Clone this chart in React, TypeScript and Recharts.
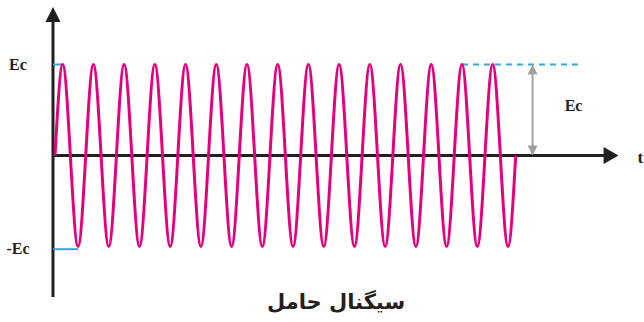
import { ComposedChart, Line, XAxis, YAxis, ReferenceLine } from "recharts";

// carrier sampled every quarter period, 15 periods
const sampleIndex = [
  0, 1, 2, 3, 4, 5, 6, 7, 8, 9, 10, 11, 12, 13, 14, 15, 16, 17, 18, 19, 20,
  21, 22, 23, 24, 25, 26, 27, 28, 29, 30, 31, 32, 33, 34, 35, 36, 37, 38, 39, 40,
  41, 42, 43, 44, 45, 46, 47, 48, 49, 50, 51, 52, 53, 54, 55, 56, 57, 58, 59, 60,
];
const carrierLevel = [
  0, 1, 0, -1, 0, 1, 0, -1, 0, 1, 0, -1, 0, 1, 0, -1, 0, 1, 0, -1, 0,
  1, 0, -1, 0, 1, 0, -1, 0, 1, 0, -1, 0, 1, 0, -1, 0, 1, 0, -1, 0,
  1, 0, -1, 0, 1, 0, -1, 0, 1, 0, -1, 0, 1, 0, -1, 0, 1, 0, -1, 0,
];

const levelValues = [1, -1.03];
const levelLabels = ["Ec", "-Ec"];
const levelEnds = [1, 3];
const axisLabel = "t";
const titleText = "سیگنال حامل";

const data = sampleIndex.map((t, i) => ({ t, v: carrierLevel[i] }));

const PINK = "#e6007e";
const BLUE = "#29abe2";
const GRAY = "#a0a0a0";
const DARK = "#231f20";
const labelFont = "'Liberation Serif', 'Times New Roman', serif";

const HorizontalAxis = (p: any) => {
  const { x1, y1, x2, y2 } = p;
  return (
    <g>
      <line x1={x1} y1={y1} x2={x2 - 12} y2={y2} stroke={DARK} strokeWidth={3} />
      <polygon points={`${x2},${y2} ${x2 - 15},${y2 - 8.5} ${x2 - 15},${y2 + 8.5}`} fill={DARK} />
      <text x={x2 + 19} y={y2 + 8} fontFamily={labelFont} fontWeight="bold" fontSize={17} fill={DARK}>
        {axisLabel}
      </text>
    </g>
  );
};

const VerticalAxis = (p: any) => {
  const { x1, y1, x2, y2 } = p;
  return (
    <g>
      <line x1={x1} y1={y1} x2={x2} y2={y2 + 12} stroke={DARK} strokeWidth={3} />
      <polygon points={`${x2},${y2} ${x2 - 7.5},${y2 + 15} ${x2 + 7.5},${y2 + 15}`} fill={DARK} />
    </g>
  );
};

const LevelMark = (label: string) => (p: any) => {
  const { x1, y1, x2, y2 } = p;
  return (
    <g>
      <line x1={x1} y1={y1} x2={x2} y2={y2} stroke={BLUE} strokeWidth={2} />
      <text x={x1 - 35} y={y1 + 5} textAnchor="middle" fontFamily={labelFont} fontWeight="bold" fontSize={16} fill={DARK}>
        {label}
      </text>
    </g>
  );
};

const AmplitudeArrow = (p: any) => {
  const { x1, y1, y2 } = p;
  return (
    <g>
      <line x1={x1} y1={y1 + 8} x2={x1} y2={y2 - 8} stroke={GRAY} strokeWidth={2} />
      <polygon points={`${x1},${y1} ${x1 - 5},${y1 + 10} ${x1 + 5},${y1 + 10}`} fill={GRAY} />
      <polygon points={`${x1},${y2} ${x1 - 5},${y2 - 10} ${x1 + 5},${y2 - 10}`} fill={GRAY} />
      <text x={x1 + 41} y={(y1 + y2) / 2 + 1} textAnchor="middle" fontFamily={labelFont} fontWeight="bold" fontSize={16} fill={DARK}>
        {levelLabels[0]}
      </text>
    </g>
  );
};

export default function App() {
  return (
    <div style={{ position: "absolute", left: 0, top: 0, width: 644, height: 322, background: "#fff" }}>
      <ComposedChart width={644} height={322} data={data} margin={{ top: 0, right: 0, bottom: 0, left: 0 }}>
        <XAxis dataKey="t" type="number" domain={[-7.163, 76.71]} hide allowDataOverflow />
        <YAxis type="number" domain={[-1.83, 1.709]} hide allowDataOverflow />
        <ReferenceLine
          segment={[{ x: -0.26, y: -1.555 }, { x: -0.26, y: 1.631 }]}
          shape={VerticalAxis}
        />
        <ReferenceLine
          segment={[{ x: -0.26, y: 0 }, { x: 73.4, y: 0 }]}
          shape={HorizontalAxis}
        />
        {levelValues.map((lv, i) => (
          <ReferenceLine
            key={levelLabels[i]}
            segment={[{ x: -0.26, y: lv }, { x: levelEnds[i], y: lv }]}
            shape={LevelMark(levelLabels[i])}
          />
        ))}
        <ReferenceLine
          segment={[{ x: 53, y: 1 }, { x: 68.3, y: 1 }]}
          stroke={BLUE}
          strokeWidth={2}
          strokeDasharray="6 5"
        />
        <ReferenceLine segment={[{ x: 62.2, y: 1 }, { x: 62.2, y: 0 }]} shape={AmplitudeArrow} />
        <Line
          dataKey="v"
          type="natural"
          stroke={PINK}
          strokeWidth={3}
          dot={false}
          activeDot={false}
          isAnimationActive={false}
        />
      </ComposedChart>
      <div
        dir="rtl"
        style={{
          position: "absolute",
          left: 0,
          width: 644,
          top: 290,
          textAlign: "center",
          fontFamily: "'DejaVu Sans', sans-serif",
          fontWeight: "bold",
          fontSize: 21,
          color: DARK,
          paddingLeft: 28,
          boxSizing: "border-box",
        }}
      >
        {titleText}
      </div>
    </div>
  );
}
